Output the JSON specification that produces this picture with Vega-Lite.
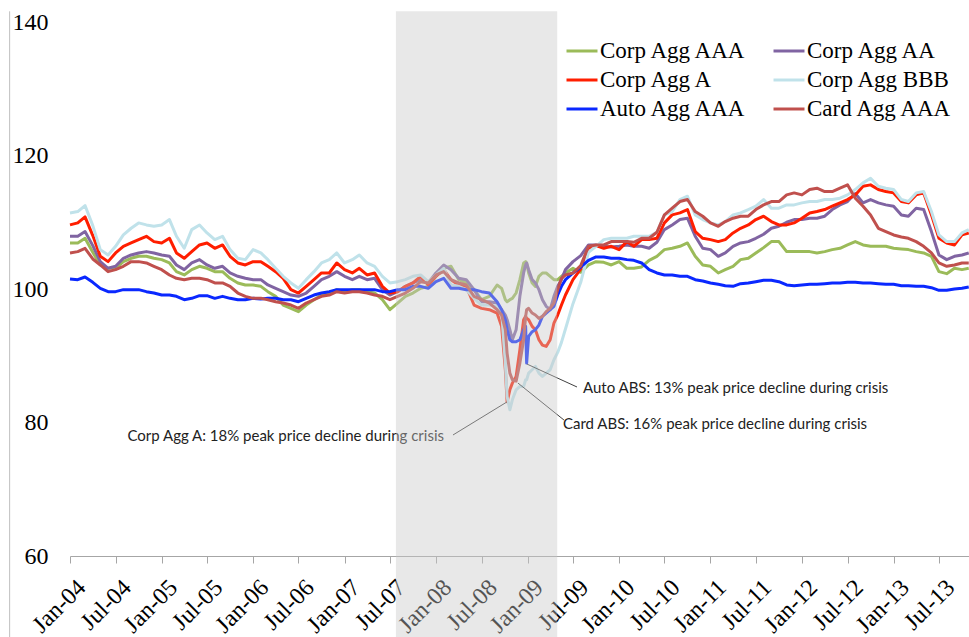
{
"$schema":"https://vega.github.io/schema/vega-lite/v6.json",
"width":899,"height":534,
"autosize":{"type":"none"},
"padding":{"left":70,"top":22,"right":0,"bottom":81},
"background":"white",
"config":{"view":{"stroke":null},"font":"Liberation Serif"},
"datasets":{"series":[
{"s":"AAA","d":"2004-01-01","v":106.9},{"s":"AAA","d":"2004-02-01","v":106.9},{"s":"AAA","d":"2004-03-01","v":107.6},{"s":"AAA","d":"2004-04-01","v":105.5},{"s":"AAA","d":"2004-05-01","v":103.6},{"s":"AAA","d":"2004-06-01","v":103.1},{"s":"AAA","d":"2004-07-01","v":103.1},{"s":"AAA","d":"2004-08-01","v":104.1},{"s":"AAA","d":"2004-09-01","v":104.6},{"s":"AAA","d":"2004-10-01","v":104.9},{"s":"AAA","d":"2004-11-01","v":104.9},{"s":"AAA","d":"2004-12-01","v":104.6},
{"s":"AAA","d":"2005-01-01","v":104.4},{"s":"AAA","d":"2005-02-01","v":103.9},{"s":"AAA","d":"2005-03-01","v":102.6},{"s":"AAA","d":"2005-04-01","v":102.1},{"s":"AAA","d":"2005-05-01","v":102.9},{"s":"AAA","d":"2005-06-01","v":103.4},{"s":"AAA","d":"2005-07-01","v":103.1},{"s":"AAA","d":"2005-08-01","v":102.6},{"s":"AAA","d":"2005-09-01","v":102.6},{"s":"AAA","d":"2005-10-01","v":101.6},{"s":"AAA","d":"2005-11-01","v":100.9},{"s":"AAA","d":"2005-12-01","v":100.6},
{"s":"AAA","d":"2006-01-01","v":100.6},{"s":"AAA","d":"2006-02-01","v":100.4},{"s":"AAA","d":"2006-03-01","v":99.6},{"s":"AAA","d":"2006-04-01","v":98.9},{"s":"AAA","d":"2006-05-01","v":97.6},{"s":"AAA","d":"2006-06-01","v":97.1},{"s":"AAA","d":"2006-07-01","v":96.6},{"s":"AAA","d":"2006-08-01","v":97.6},{"s":"AAA","d":"2006-09-01","v":98.4},{"s":"AAA","d":"2006-10-01","v":99.1},{"s":"AAA","d":"2006-11-01","v":99.4},{"s":"AAA","d":"2006-12-01","v":99.9},
{"s":"AAA","d":"2007-01-01","v":99.6},{"s":"AAA","d":"2007-02-01","v":99.9},{"s":"AAA","d":"2007-03-01","v":99.9},{"s":"AAA","d":"2007-04-01","v":99.6},{"s":"AAA","d":"2007-05-01","v":99.4},{"s":"AAA","d":"2007-06-01","v":98.4},{"s":"AAA","d":"2007-07-01","v":96.9},{"s":"AAA","d":"2007-08-01","v":97.9},{"s":"AAA","d":"2007-09-01","v":98.9},{"s":"AAA","d":"2007-10-01","v":99.4},{"s":"AAA","d":"2007-11-01","v":100.1},{"s":"AAA","d":"2007-12-01","v":100.4},
{"s":"AAA","d":"2008-01-01","v":101.9},{"s":"AAA","d":"2008-02-01","v":103.1},{"s":"AAA","d":"2008-03-01","v":103.4},{"s":"AAA","d":"2008-04-01","v":101.4},{"s":"AAA","d":"2008-05-01","v":100.9},{"s":"AAA","d":"2008-06-01","v":99.9},{"s":"AAA","d":"2008-07-01","v":98.4},{"s":"AAA","d":"2008-08-01","v":98.9},
{"s":"AAA","d":"2008-09-01","v":100.6},{"s":"AAA","d":"2008-09-19","v":100.1},{"s":"AAA","d":"2008-10-04","v":98.4},{"s":"AAA","d":"2008-10-11","v":98.1},{"s":"AAA","d":"2008-10-22","v":98.4},{"s":"AAA","d":"2008-11-01","v":98.6},{"s":"AAA","d":"2008-11-16","v":99.4},{"s":"AAA","d":"2008-12-01","v":101.4},{"s":"AAA","d":"2008-12-16","v":103.9},{"s":"AAA","d":"2008-12-24","v":104.1},{"s":"AAA","d":"2008-12-28","v":103.9},{"s":"AAA","d":"2009-01-05","v":102.4},{"s":"AAA","d":"2009-01-19","v":100.9},{"s":"AAA","d":"2009-02-01","v":100.4},{"s":"AAA","d":"2009-02-15","v":101.9},{"s":"AAA","d":"2009-03-01","v":102.4},{"s":"AAA","d":"2009-03-16","v":102.4},{"s":"AAA","d":"2009-04-01","v":101.9},{"s":"AAA","d":"2009-04-16","v":101.4},{"s":"AAA","d":"2009-05-01","v":101.4},{"s":"AAA","d":"2009-05-16","v":101.9},{"s":"AAA","d":"2009-06-01","v":102.4},{"s":"AAA","d":"2009-07-01","v":103.1},
{"s":"AAA","d":"2009-08-01","v":102.5},{"s":"AAA","d":"2009-09-01","v":103.6},{"s":"AAA","d":"2009-10-01","v":104.1},{"s":"AAA","d":"2009-11-01","v":104.0},{"s":"AAA","d":"2009-12-01","v":103.6},
{"s":"AAA","d":"2010-01-01","v":104.1},{"s":"AAA","d":"2010-02-01","v":103.1},{"s":"AAA","d":"2010-03-01","v":103.1},{"s":"AAA","d":"2010-04-01","v":103.3},{"s":"AAA","d":"2010-05-01","v":104.3},{"s":"AAA","d":"2010-06-01","v":104.9},{"s":"AAA","d":"2010-07-01","v":105.9},{"s":"AAA","d":"2010-08-01","v":106.1},{"s":"AAA","d":"2010-09-01","v":106.4},{"s":"AAA","d":"2010-10-01","v":106.9},{"s":"AAA","d":"2010-11-01","v":104.9},{"s":"AAA","d":"2010-12-01","v":103.6},
{"s":"AAA","d":"2011-01-01","v":103.4},{"s":"AAA","d":"2011-02-01","v":102.4},{"s":"AAA","d":"2011-03-01","v":102.9},{"s":"AAA","d":"2011-04-01","v":103.4},{"s":"AAA","d":"2011-05-01","v":104.4},{"s":"AAA","d":"2011-06-01","v":104.6},{"s":"AAA","d":"2011-07-01","v":105.4},{"s":"AAA","d":"2011-08-01","v":106.2},{"s":"AAA","d":"2011-09-01","v":107.1},{"s":"AAA","d":"2011-10-01","v":107.1},{"s":"AAA","d":"2011-11-01","v":105.6},{"s":"AAA","d":"2011-12-01","v":105.6},
{"s":"AAA","d":"2012-01-01","v":105.6},{"s":"AAA","d":"2012-02-01","v":105.6},{"s":"AAA","d":"2012-03-01","v":105.4},{"s":"AAA","d":"2012-04-01","v":105.6},{"s":"AAA","d":"2012-05-01","v":105.9},{"s":"AAA","d":"2012-06-01","v":106.1},{"s":"AAA","d":"2012-07-01","v":106.6},{"s":"AAA","d":"2012-08-01","v":107.1},{"s":"AAA","d":"2012-09-01","v":106.6},{"s":"AAA","d":"2012-10-01","v":106.4},{"s":"AAA","d":"2012-11-01","v":106.4},{"s":"AAA","d":"2012-12-01","v":106.4},
{"s":"AAA","d":"2013-01-01","v":106.1},{"s":"AAA","d":"2013-02-01","v":106.0},{"s":"AAA","d":"2013-03-01","v":105.9},{"s":"AAA","d":"2013-04-01","v":105.6},{"s":"AAA","d":"2013-05-01","v":105.4},{"s":"AAA","d":"2013-06-01","v":104.9},{"s":"AAA","d":"2013-07-01","v":102.6},{"s":"AAA","d":"2013-08-01","v":102.3},{"s":"AAA","d":"2013-09-01","v":103.1},{"s":"AAA","d":"2013-10-01","v":102.9},{"s":"AAA","d":"2013-10-28","v":103.1},
{"s":"AA","d":"2004-01-01","v":107.9},{"s":"AA","d":"2004-02-01","v":107.9},{"s":"AA","d":"2004-03-01","v":108.6},{"s":"AA","d":"2004-04-01","v":106.5},{"s":"AA","d":"2004-05-01","v":104.1},{"s":"AA","d":"2004-06-01","v":103.1},{"s":"AA","d":"2004-07-01","v":103.4},{"s":"AA","d":"2004-08-01","v":104.6},{"s":"AA","d":"2004-09-01","v":105.1},{"s":"AA","d":"2004-10-01","v":105.4},{"s":"AA","d":"2004-11-01","v":105.6},{"s":"AA","d":"2004-12-01","v":105.4},
{"s":"AA","d":"2005-01-01","v":105.1},{"s":"AA","d":"2005-02-01","v":104.9},{"s":"AA","d":"2005-03-01","v":103.6},{"s":"AA","d":"2005-04-01","v":102.9},{"s":"AA","d":"2005-05-01","v":103.9},{"s":"AA","d":"2005-06-01","v":104.4},{"s":"AA","d":"2005-07-01","v":103.6},{"s":"AA","d":"2005-08-01","v":103.1},{"s":"AA","d":"2005-09-01","v":103.4},{"s":"AA","d":"2005-10-01","v":102.4},{"s":"AA","d":"2005-11-01","v":101.9},{"s":"AA","d":"2005-12-01","v":101.6},
{"s":"AA","d":"2006-01-01","v":101.4},{"s":"AA","d":"2006-02-01","v":101.4},{"s":"AA","d":"2006-03-01","v":100.6},{"s":"AA","d":"2006-04-01","v":100.1},{"s":"AA","d":"2006-05-01","v":99.6},{"s":"AA","d":"2006-06-01","v":99.1},{"s":"AA","d":"2006-07-01","v":98.9},{"s":"AA","d":"2006-08-01","v":99.4},{"s":"AA","d":"2006-09-01","v":100.4},{"s":"AA","d":"2006-10-01","v":101.4},{"s":"AA","d":"2006-11-01","v":101.9},{"s":"AA","d":"2006-12-01","v":102.6},
{"s":"AA","d":"2007-01-01","v":101.9},{"s":"AA","d":"2007-02-01","v":101.4},{"s":"AA","d":"2007-03-01","v":101.9},{"s":"AA","d":"2007-04-01","v":101.4},{"s":"AA","d":"2007-05-01","v":101.6},{"s":"AA","d":"2007-06-01","v":99.9},{"s":"AA","d":"2007-07-01","v":99.1},{"s":"AA","d":"2007-08-01","v":99.6},{"s":"AA","d":"2007-09-01","v":100.4},{"s":"AA","d":"2007-10-01","v":100.9},{"s":"AA","d":"2007-11-01","v":101.4},{"s":"AA","d":"2007-12-01","v":100.9},
{"s":"AA","d":"2008-01-01","v":102.4},{"s":"AA","d":"2008-02-01","v":103.6},{"s":"AA","d":"2008-03-01","v":102.9},{"s":"AA","d":"2008-04-01","v":101.6},{"s":"AA","d":"2008-05-01","v":101.4},{"s":"AA","d":"2008-06-01","v":99.9},{"s":"AA","d":"2008-07-01","v":98.1},{"s":"AA","d":"2008-08-01","v":98.1},
{"s":"AA","d":"2008-09-01","v":97.9},{"s":"AA","d":"2008-09-19","v":96.9},{"s":"AA","d":"2008-10-04","v":96.1},{"s":"AA","d":"2008-10-11","v":95.4},{"s":"AA","d":"2008-10-22","v":93.9},{"s":"AA","d":"2008-11-01","v":92.4},{"s":"AA","d":"2008-11-16","v":93.9},{"s":"AA","d":"2008-12-01","v":98.9},{"s":"AA","d":"2008-12-16","v":102.4},{"s":"AA","d":"2008-12-24","v":103.6},{"s":"AA","d":"2008-12-28","v":103.9},{"s":"AA","d":"2009-01-05","v":102.9},{"s":"AA","d":"2009-01-19","v":101.4},{"s":"AA","d":"2009-02-01","v":100.9},{"s":"AA","d":"2009-02-15","v":99.9},{"s":"AA","d":"2009-03-01","v":98.4},{"s":"AA","d":"2009-03-16","v":97.4},{"s":"AA","d":"2009-04-01","v":96.9},{"s":"AA","d":"2009-04-16","v":98.9},{"s":"AA","d":"2009-05-01","v":100.4},{"s":"AA","d":"2009-05-16","v":101.4},{"s":"AA","d":"2009-06-01","v":102.9},{"s":"AA","d":"2009-07-01","v":104.1},
{"s":"AA","d":"2009-08-01","v":105.0},{"s":"AA","d":"2009-09-01","v":106.6},{"s":"AA","d":"2009-10-01","v":106.6},{"s":"AA","d":"2009-11-01","v":106.4},{"s":"AA","d":"2009-12-01","v":106.3},
{"s":"AA","d":"2010-01-01","v":106.4},{"s":"AA","d":"2010-02-01","v":106.6},{"s":"AA","d":"2010-03-01","v":106.4},{"s":"AA","d":"2010-04-01","v":106.4},{"s":"AA","d":"2010-05-01","v":106.1},{"s":"AA","d":"2010-06-01","v":107.0},{"s":"AA","d":"2010-07-01","v":108.9},{"s":"AA","d":"2010-08-01","v":109.6},{"s":"AA","d":"2010-09-01","v":110.4},{"s":"AA","d":"2010-10-01","v":110.6},{"s":"AA","d":"2010-11-01","v":107.9},{"s":"AA","d":"2010-12-01","v":106.1},
{"s":"AA","d":"2011-01-01","v":105.9},{"s":"AA","d":"2011-02-01","v":104.9},{"s":"AA","d":"2011-03-01","v":105.4},{"s":"AA","d":"2011-04-01","v":106.4},{"s":"AA","d":"2011-05-01","v":106.9},{"s":"AA","d":"2011-06-01","v":107.1},{"s":"AA","d":"2011-07-01","v":107.6},{"s":"AA","d":"2011-08-01","v":108.2},{"s":"AA","d":"2011-09-01","v":109.1},{"s":"AA","d":"2011-10-01","v":109.4},{"s":"AA","d":"2011-11-01","v":110.0},{"s":"AA","d":"2011-12-01","v":110.4},
{"s":"AA","d":"2012-01-01","v":110.4},{"s":"AA","d":"2012-02-01","v":110.6},{"s":"AA","d":"2012-03-01","v":110.6},{"s":"AA","d":"2012-04-01","v":110.9},{"s":"AA","d":"2012-05-01","v":111.9},{"s":"AA","d":"2012-06-01","v":112.6},{"s":"AA","d":"2012-07-01","v":113.1},{"s":"AA","d":"2012-08-01","v":114.3},{"s":"AA","d":"2012-09-01","v":112.9},{"s":"AA","d":"2012-10-01","v":113.4},{"s":"AA","d":"2012-11-01","v":112.9},{"s":"AA","d":"2012-12-01","v":112.6},
{"s":"AA","d":"2013-01-01","v":112.4},{"s":"AA","d":"2013-02-01","v":111.1},{"s":"AA","d":"2013-03-01","v":110.9},{"s":"AA","d":"2013-04-01","v":112.1},{"s":"AA","d":"2013-05-01","v":111.9},{"s":"AA","d":"2013-06-01","v":108.6},{"s":"AA","d":"2013-07-01","v":105.1},{"s":"AA","d":"2013-08-01","v":104.4},{"s":"AA","d":"2013-09-01","v":104.9},{"s":"AA","d":"2013-10-01","v":105.1},{"s":"AA","d":"2013-10-28","v":105.4},
{"s":"A","d":"2004-01-01","v":109.6},{"s":"A","d":"2004-02-01","v":109.9},{"s":"A","d":"2004-03-01","v":110.8},{"s":"A","d":"2004-04-01","v":108.0},{"s":"A","d":"2004-05-01","v":104.9},{"s":"A","d":"2004-06-01","v":104.1},{"s":"A","d":"2004-07-01","v":105.4},{"s":"A","d":"2004-08-01","v":106.4},{"s":"A","d":"2004-09-01","v":106.9},{"s":"A","d":"2004-10-01","v":107.4},{"s":"A","d":"2004-11-01","v":107.9},{"s":"A","d":"2004-12-01","v":107.1},
{"s":"A","d":"2005-01-01","v":106.9},{"s":"A","d":"2005-02-01","v":107.6},{"s":"A","d":"2005-03-01","v":105.4},{"s":"A","d":"2005-04-01","v":104.6},{"s":"A","d":"2005-05-01","v":105.6},{"s":"A","d":"2005-06-01","v":106.6},{"s":"A","d":"2005-07-01","v":106.9},{"s":"A","d":"2005-08-01","v":106.1},{"s":"A","d":"2005-09-01","v":106.6},{"s":"A","d":"2005-10-01","v":104.9},{"s":"A","d":"2005-11-01","v":103.9},{"s":"A","d":"2005-12-01","v":103.6},
{"s":"A","d":"2006-01-01","v":104.1},{"s":"A","d":"2006-02-01","v":104.1},{"s":"A","d":"2006-03-01","v":103.4},{"s":"A","d":"2006-04-01","v":102.6},{"s":"A","d":"2006-05-01","v":101.6},{"s":"A","d":"2006-06-01","v":99.9},{"s":"A","d":"2006-07-01","v":99.4},{"s":"A","d":"2006-08-01","v":100.4},{"s":"A","d":"2006-09-01","v":101.4},{"s":"A","d":"2006-10-01","v":102.4},{"s":"A","d":"2006-11-01","v":102.4},{"s":"A","d":"2006-12-01","v":103.9},
{"s":"A","d":"2007-01-01","v":102.9},{"s":"A","d":"2007-02-01","v":102.4},{"s":"A","d":"2007-03-01","v":103.1},{"s":"A","d":"2007-04-01","v":102.1},{"s":"A","d":"2007-05-01","v":102.4},{"s":"A","d":"2007-06-01","v":100.4},{"s":"A","d":"2007-07-01","v":99.4},{"s":"A","d":"2007-08-01","v":99.6},{"s":"A","d":"2007-09-01","v":100.4},{"s":"A","d":"2007-10-01","v":100.9},{"s":"A","d":"2007-11-01","v":101.9},{"s":"A","d":"2007-12-01","v":100.6},
{"s":"A","d":"2008-01-01","v":101.9},{"s":"A","d":"2008-02-01","v":102.9},{"s":"A","d":"2008-03-01","v":101.4},{"s":"A","d":"2008-04-01","v":100.6},{"s":"A","d":"2008-05-01","v":100.4},{"s":"A","d":"2008-06-01","v":97.6},{"s":"A","d":"2008-07-01","v":97.1},{"s":"A","d":"2008-08-01","v":96.9},
{"s":"A","d":"2008-09-01","v":96.4},{"s":"A","d":"2008-09-19","v":94.4},{"s":"A","d":"2008-10-04","v":87.9},{"s":"A","d":"2008-10-11","v":83.1},{"s":"A","d":"2008-10-22","v":84.9},{"s":"A","d":"2008-11-01","v":85.9},{"s":"A","d":"2008-11-16","v":86.9},{"s":"A","d":"2008-12-01","v":90.9},{"s":"A","d":"2008-12-16","v":95.4},{"s":"A","d":"2008-12-24","v":95.9},{"s":"A","d":"2008-12-28","v":95.6},{"s":"A","d":"2009-01-05","v":95.4},{"s":"A","d":"2009-01-19","v":94.4},{"s":"A","d":"2009-02-01","v":93.9},{"s":"A","d":"2009-02-15","v":92.4},{"s":"A","d":"2009-03-01","v":91.6},{"s":"A","d":"2009-03-16","v":91.4},{"s":"A","d":"2009-04-01","v":92.4},{"s":"A","d":"2009-04-16","v":94.9},{"s":"A","d":"2009-05-01","v":96.1},{"s":"A","d":"2009-05-16","v":97.6},{"s":"A","d":"2009-06-01","v":99.1},{"s":"A","d":"2009-07-01","v":101.4},
{"s":"A","d":"2009-08-01","v":103.0},{"s":"A","d":"2009-09-01","v":106.1},{"s":"A","d":"2009-10-01","v":106.5},{"s":"A","d":"2009-11-01","v":106.1},{"s":"A","d":"2009-12-01","v":106.4},
{"s":"A","d":"2010-01-01","v":105.9},{"s":"A","d":"2010-02-01","v":107.1},{"s":"A","d":"2010-03-01","v":106.4},{"s":"A","d":"2010-04-01","v":107.4},{"s":"A","d":"2010-05-01","v":107.4},{"s":"A","d":"2010-06-01","v":107.6},{"s":"A","d":"2010-07-01","v":109.9},{"s":"A","d":"2010-08-01","v":111.1},{"s":"A","d":"2010-09-01","v":111.4},{"s":"A","d":"2010-10-01","v":111.9},{"s":"A","d":"2010-11-01","v":108.6},{"s":"A","d":"2010-12-01","v":107.6},
{"s":"A","d":"2011-01-01","v":107.4},{"s":"A","d":"2011-02-01","v":107.1},{"s":"A","d":"2011-03-01","v":107.4},{"s":"A","d":"2011-04-01","v":108.4},{"s":"A","d":"2011-05-01","v":109.1},{"s":"A","d":"2011-06-01","v":109.6},{"s":"A","d":"2011-07-01","v":110.4},{"s":"A","d":"2011-08-01","v":110.9},{"s":"A","d":"2011-09-01","v":110.1},{"s":"A","d":"2011-10-01","v":109.6},{"s":"A","d":"2011-11-01","v":109.6},{"s":"A","d":"2011-12-01","v":109.9},
{"s":"A","d":"2012-01-01","v":110.6},{"s":"A","d":"2012-02-01","v":111.4},{"s":"A","d":"2012-03-01","v":111.6},{"s":"A","d":"2012-04-01","v":111.9},{"s":"A","d":"2012-05-01","v":112.4},{"s":"A","d":"2012-06-01","v":112.9},{"s":"A","d":"2012-07-01","v":113.4},{"s":"A","d":"2012-08-01","v":114.1},{"s":"A","d":"2012-09-01","v":115.4},{"s":"A","d":"2012-10-01","v":115.6},{"s":"A","d":"2012-11-01","v":114.9},{"s":"A","d":"2012-12-01","v":114.6},
{"s":"A","d":"2013-01-01","v":114.4},{"s":"A","d":"2013-02-01","v":113.1},{"s":"A","d":"2013-03-01","v":112.9},{"s":"A","d":"2013-04-01","v":114.1},{"s":"A","d":"2013-05-01","v":114.4},{"s":"A","d":"2013-06-01","v":111.1},{"s":"A","d":"2013-07-01","v":107.6},{"s":"A","d":"2013-08-01","v":106.9},{"s":"A","d":"2013-09-01","v":106.6},{"s":"A","d":"2013-10-01","v":108.1},{"s":"A","d":"2013-10-28","v":108.4},
{"s":"BBB","d":"2004-01-01","v":111.4},{"s":"BBB","d":"2004-02-01","v":111.6},{"s":"BBB","d":"2004-03-01","v":112.5},{"s":"BBB","d":"2004-04-01","v":109.5},{"s":"BBB","d":"2004-05-01","v":105.9},{"s":"BBB","d":"2004-06-01","v":105.1},{"s":"BBB","d":"2004-07-01","v":106.4},{"s":"BBB","d":"2004-08-01","v":108.1},{"s":"BBB","d":"2004-09-01","v":109.1},{"s":"BBB","d":"2004-10-01","v":109.9},{"s":"BBB","d":"2004-11-01","v":109.6},{"s":"BBB","d":"2004-12-01","v":109.4},
{"s":"BBB","d":"2005-01-01","v":109.6},{"s":"BBB","d":"2005-02-01","v":110.4},{"s":"BBB","d":"2005-03-01","v":107.9},{"s":"BBB","d":"2005-04-01","v":106.1},{"s":"BBB","d":"2005-05-01","v":108.9},{"s":"BBB","d":"2005-06-01","v":109.6},{"s":"BBB","d":"2005-07-01","v":108.4},{"s":"BBB","d":"2005-08-01","v":107.4},{"s":"BBB","d":"2005-09-01","v":107.9},{"s":"BBB","d":"2005-10-01","v":105.9},{"s":"BBB","d":"2005-11-01","v":104.6},{"s":"BBB","d":"2005-12-01","v":104.4},
{"s":"BBB","d":"2006-01-01","v":105.9},{"s":"BBB","d":"2006-02-01","v":105.4},{"s":"BBB","d":"2006-03-01","v":104.4},{"s":"BBB","d":"2006-04-01","v":103.1},{"s":"BBB","d":"2006-05-01","v":101.9},{"s":"BBB","d":"2006-06-01","v":100.9},{"s":"BBB","d":"2006-07-01","v":100.1},{"s":"BBB","d":"2006-08-01","v":101.4},{"s":"BBB","d":"2006-09-01","v":102.6},{"s":"BBB","d":"2006-10-01","v":103.9},{"s":"BBB","d":"2006-11-01","v":104.4},{"s":"BBB","d":"2006-12-01","v":105.4},
{"s":"BBB","d":"2007-01-01","v":103.9},{"s":"BBB","d":"2007-02-01","v":104.4},{"s":"BBB","d":"2007-03-01","v":105.1},{"s":"BBB","d":"2007-04-01","v":103.9},{"s":"BBB","d":"2007-05-01","v":103.4},{"s":"BBB","d":"2007-06-01","v":101.9},{"s":"BBB","d":"2007-07-01","v":100.9},{"s":"BBB","d":"2007-08-01","v":101.1},{"s":"BBB","d":"2007-09-01","v":101.4},{"s":"BBB","d":"2007-10-01","v":101.9},{"s":"BBB","d":"2007-11-01","v":102.1},{"s":"BBB","d":"2007-12-01","v":101.1},
{"s":"BBB","d":"2008-01-01","v":102.1},{"s":"BBB","d":"2008-02-01","v":103.1},{"s":"BBB","d":"2008-03-01","v":100.6},{"s":"BBB","d":"2008-04-01","v":100.4},{"s":"BBB","d":"2008-05-01","v":99.9},{"s":"BBB","d":"2008-06-01","v":98.6},{"s":"BBB","d":"2008-07-01","v":97.6},{"s":"BBB","d":"2008-08-01","v":97.6},
{"s":"BBB","d":"2008-09-01","v":97.4},{"s":"BBB","d":"2008-09-19","v":96.6},{"s":"BBB","d":"2008-10-04","v":88.9},{"s":"BBB","d":"2008-10-11","v":83.9},{"s":"BBB","d":"2008-10-22","v":81.9},{"s":"BBB","d":"2008-11-01","v":83.4},{"s":"BBB","d":"2008-11-16","v":84.9},{"s":"BBB","d":"2008-12-01","v":85.4},{"s":"BBB","d":"2008-12-16","v":85.4},{"s":"BBB","d":"2008-12-24","v":86.4},{"s":"BBB","d":"2008-12-28","v":86.4},{"s":"BBB","d":"2009-01-05","v":87.4},{"s":"BBB","d":"2009-01-19","v":87.9},{"s":"BBB","d":"2009-02-01","v":88.4},{"s":"BBB","d":"2009-02-15","v":87.4},{"s":"BBB","d":"2009-03-01","v":86.9},{"s":"BBB","d":"2009-03-16","v":87.4},{"s":"BBB","d":"2009-04-01","v":87.9},{"s":"BBB","d":"2009-04-16","v":89.4},{"s":"BBB","d":"2009-05-01","v":90.5},{"s":"BBB","d":"2009-05-16","v":92.0},{"s":"BBB","d":"2009-06-01","v":94.0},{"s":"BBB","d":"2009-07-01","v":97.8},
{"s":"BBB","d":"2009-08-01","v":101.0},{"s":"BBB","d":"2009-09-01","v":105.5},{"s":"BBB","d":"2009-10-01","v":106.4},{"s":"BBB","d":"2009-11-01","v":107.4},{"s":"BBB","d":"2009-12-01","v":107.6},
{"s":"BBB","d":"2010-01-01","v":107.6},{"s":"BBB","d":"2010-02-01","v":107.6},{"s":"BBB","d":"2010-03-01","v":107.9},{"s":"BBB","d":"2010-04-01","v":107.9},{"s":"BBB","d":"2010-05-01","v":107.9},{"s":"BBB","d":"2010-06-01","v":108.5},{"s":"BBB","d":"2010-07-01","v":111.1},{"s":"BBB","d":"2010-08-01","v":111.6},{"s":"BBB","d":"2010-09-01","v":113.4},{"s":"BBB","d":"2010-10-01","v":113.9},{"s":"BBB","d":"2010-11-01","v":111.1},{"s":"BBB","d":"2010-12-01","v":110.4},
{"s":"BBB","d":"2011-01-01","v":109.9},{"s":"BBB","d":"2011-02-01","v":109.6},{"s":"BBB","d":"2011-03-01","v":110.1},{"s":"BBB","d":"2011-04-01","v":111.1},{"s":"BBB","d":"2011-05-01","v":111.4},{"s":"BBB","d":"2011-06-01","v":111.9},{"s":"BBB","d":"2011-07-01","v":112.4},{"s":"BBB","d":"2011-08-01","v":113.4},{"s":"BBB","d":"2011-09-01","v":112.1},{"s":"BBB","d":"2011-10-01","v":112.1},{"s":"BBB","d":"2011-11-01","v":112.6},{"s":"BBB","d":"2011-12-01","v":112.6},
{"s":"BBB","d":"2012-01-01","v":112.9},{"s":"BBB","d":"2012-02-01","v":113.1},{"s":"BBB","d":"2012-03-01","v":113.1},{"s":"BBB","d":"2012-04-01","v":113.4},{"s":"BBB","d":"2012-05-01","v":113.4},{"s":"BBB","d":"2012-06-01","v":113.6},{"s":"BBB","d":"2012-07-01","v":114.1},{"s":"BBB","d":"2012-08-01","v":114.9},{"s":"BBB","d":"2012-09-01","v":115.9},{"s":"BBB","d":"2012-10-01","v":116.6},{"s":"BBB","d":"2012-11-01","v":115.4},{"s":"BBB","d":"2012-12-01","v":115.1},
{"s":"BBB","d":"2013-01-01","v":114.9},{"s":"BBB","d":"2013-02-01","v":113.4},{"s":"BBB","d":"2013-03-01","v":113.1},{"s":"BBB","d":"2013-04-01","v":114.4},{"s":"BBB","d":"2013-05-01","v":114.6},{"s":"BBB","d":"2013-06-01","v":111.6},{"s":"BBB","d":"2013-07-01","v":108.1},{"s":"BBB","d":"2013-08-01","v":107.1},{"s":"BBB","d":"2013-09-01","v":107.1},{"s":"BBB","d":"2013-10-01","v":108.4},{"s":"BBB","d":"2013-10-28","v":108.9},
{"s":"Auto","d":"2004-01-01","v":101.5},{"s":"Auto","d":"2004-02-01","v":101.4},{"s":"Auto","d":"2004-03-01","v":101.8},{"s":"Auto","d":"2004-04-01","v":101.0},{"s":"Auto","d":"2004-05-01","v":100.1},{"s":"Auto","d":"2004-06-01","v":99.6},{"s":"Auto","d":"2004-07-01","v":99.6},{"s":"Auto","d":"2004-08-01","v":99.9},{"s":"Auto","d":"2004-09-01","v":99.9},{"s":"Auto","d":"2004-10-01","v":99.9},{"s":"Auto","d":"2004-11-01","v":99.6},{"s":"Auto","d":"2004-12-01","v":99.4},
{"s":"Auto","d":"2005-01-01","v":99.1},{"s":"Auto","d":"2005-02-01","v":99.1},{"s":"Auto","d":"2005-03-01","v":98.9},{"s":"Auto","d":"2005-04-01","v":98.4},{"s":"Auto","d":"2005-05-01","v":98.6},{"s":"Auto","d":"2005-06-01","v":99.0},{"s":"Auto","d":"2005-07-01","v":99.0},{"s":"Auto","d":"2005-08-01","v":98.6},{"s":"Auto","d":"2005-09-01","v":98.9},{"s":"Auto","d":"2005-10-01","v":98.6},{"s":"Auto","d":"2005-11-01","v":98.4},{"s":"Auto","d":"2005-12-01","v":98.4},
{"s":"Auto","d":"2006-01-01","v":98.6},{"s":"Auto","d":"2006-02-01","v":98.5},{"s":"Auto","d":"2006-03-01","v":98.6},{"s":"Auto","d":"2006-04-01","v":98.6},{"s":"Auto","d":"2006-05-01","v":98.4},{"s":"Auto","d":"2006-06-01","v":98.4},{"s":"Auto","d":"2006-07-01","v":98.1},{"s":"Auto","d":"2006-08-01","v":98.6},{"s":"Auto","d":"2006-09-01","v":99.1},{"s":"Auto","d":"2006-10-01","v":99.4},{"s":"Auto","d":"2006-11-01","v":99.6},{"s":"Auto","d":"2006-12-01","v":99.9},
{"s":"Auto","d":"2007-01-01","v":99.9},{"s":"Auto","d":"2007-02-01","v":99.9},{"s":"Auto","d":"2007-03-01","v":99.9},{"s":"Auto","d":"2007-04-01","v":99.9},{"s":"Auto","d":"2007-05-01","v":99.9},{"s":"Auto","d":"2007-06-01","v":99.6},{"s":"Auto","d":"2007-07-01","v":99.6},{"s":"Auto","d":"2007-08-01","v":99.9},{"s":"Auto","d":"2007-09-01","v":99.9},{"s":"Auto","d":"2007-10-01","v":100.4},{"s":"Auto","d":"2007-11-01","v":100.4},{"s":"Auto","d":"2007-12-01","v":100.1},
{"s":"Auto","d":"2008-01-01","v":101.1},{"s":"Auto","d":"2008-02-01","v":101.6},{"s":"Auto","d":"2008-03-01","v":100.1},{"s":"Auto","d":"2008-04-01","v":100.1},{"s":"Auto","d":"2008-05-01","v":99.9},{"s":"Auto","d":"2008-06-01","v":99.9},{"s":"Auto","d":"2008-07-01","v":99.6},{"s":"Auto","d":"2008-08-01","v":99.4},
{"s":"Auto","d":"2008-09-01","v":98.1},{"s":"Auto","d":"2008-09-19","v":96.9},{"s":"Auto","d":"2008-10-04","v":95.4},{"s":"Auto","d":"2008-10-11","v":93.9},{"s":"Auto","d":"2008-10-22","v":92.4},{"s":"Auto","d":"2008-11-01","v":92.1},{"s":"Auto","d":"2008-11-16","v":92.1},{"s":"Auto","d":"2008-12-01","v":92.4},{"s":"Auto","d":"2008-12-16","v":93.9},{"s":"Auto","d":"2008-12-24","v":94.4},{"s":"Auto","d":"2008-12-28","v":88.9},{"s":"Auto","d":"2009-01-05","v":92.9},{"s":"Auto","d":"2009-01-19","v":93.6},{"s":"Auto","d":"2009-02-01","v":93.9},{"s":"Auto","d":"2009-02-15","v":94.6},{"s":"Auto","d":"2009-03-01","v":95.9},{"s":"Auto","d":"2009-03-16","v":96.4},{"s":"Auto","d":"2009-04-01","v":96.9},{"s":"Auto","d":"2009-04-16","v":97.4},{"s":"Auto","d":"2009-05-01","v":99.1},{"s":"Auto","d":"2009-05-16","v":100.4},{"s":"Auto","d":"2009-06-01","v":101.4},{"s":"Auto","d":"2009-07-01","v":102.4},
{"s":"Auto","d":"2009-08-01","v":103.3},{"s":"Auto","d":"2009-09-01","v":104.3},{"s":"Auto","d":"2009-10-01","v":104.8},{"s":"Auto","d":"2009-11-01","v":104.8},{"s":"Auto","d":"2009-12-01","v":104.6},
{"s":"Auto","d":"2010-01-01","v":104.6},{"s":"Auto","d":"2010-02-01","v":104.4},{"s":"Auto","d":"2010-03-01","v":104.3},{"s":"Auto","d":"2010-04-01","v":103.9},{"s":"Auto","d":"2010-05-01","v":102.9},{"s":"Auto","d":"2010-06-01","v":102.4},{"s":"Auto","d":"2010-07-01","v":102.1},{"s":"Auto","d":"2010-08-01","v":102.1},{"s":"Auto","d":"2010-09-01","v":101.9},{"s":"Auto","d":"2010-10-01","v":101.9},{"s":"Auto","d":"2010-11-01","v":101.4},{"s":"Auto","d":"2010-12-01","v":101.2},
{"s":"Auto","d":"2011-01-01","v":100.9},{"s":"Auto","d":"2011-02-01","v":100.7},{"s":"Auto","d":"2011-03-01","v":100.5},{"s":"Auto","d":"2011-04-01","v":100.4},{"s":"Auto","d":"2011-05-01","v":100.8},{"s":"Auto","d":"2011-06-01","v":100.9},{"s":"Auto","d":"2011-07-01","v":101.1},{"s":"Auto","d":"2011-08-01","v":101.3},{"s":"Auto","d":"2011-09-01","v":101.3},{"s":"Auto","d":"2011-10-01","v":101.1},{"s":"Auto","d":"2011-11-01","v":100.6},{"s":"Auto","d":"2011-12-01","v":100.5},
{"s":"Auto","d":"2012-01-01","v":100.6},{"s":"Auto","d":"2012-02-01","v":100.7},{"s":"Auto","d":"2012-03-01","v":100.7},{"s":"Auto","d":"2012-04-01","v":100.8},{"s":"Auto","d":"2012-05-01","v":100.9},{"s":"Auto","d":"2012-06-01","v":100.9},{"s":"Auto","d":"2012-07-01","v":101.0},{"s":"Auto","d":"2012-08-01","v":101.0},{"s":"Auto","d":"2012-09-01","v":100.9},{"s":"Auto","d":"2012-10-01","v":100.9},{"s":"Auto","d":"2012-11-01","v":100.8},{"s":"Auto","d":"2012-12-01","v":100.7},
{"s":"Auto","d":"2013-01-01","v":100.7},{"s":"Auto","d":"2013-02-01","v":100.5},{"s":"Auto","d":"2013-03-01","v":100.5},{"s":"Auto","d":"2013-04-01","v":100.4},{"s":"Auto","d":"2013-05-01","v":100.4},{"s":"Auto","d":"2013-06-01","v":100.2},{"s":"Auto","d":"2013-07-01","v":99.8},{"s":"Auto","d":"2013-08-01","v":99.8},{"s":"Auto","d":"2013-09-01","v":100.0},{"s":"Auto","d":"2013-10-01","v":100.1},{"s":"Auto","d":"2013-10-28","v":100.3},
{"s":"Card","d":"2004-01-01","v":105.4},{"s":"Card","d":"2004-02-01","v":105.6},{"s":"Card","d":"2004-03-01","v":106.1},{"s":"Card","d":"2004-04-01","v":104.5},{"s":"Card","d":"2004-05-01","v":103.6},{"s":"Card","d":"2004-06-01","v":102.6},{"s":"Card","d":"2004-07-01","v":102.9},{"s":"Card","d":"2004-08-01","v":103.4},{"s":"Card","d":"2004-09-01","v":104.1},{"s":"Card","d":"2004-10-01","v":104.1},{"s":"Card","d":"2004-11-01","v":103.9},{"s":"Card","d":"2004-12-01","v":103.4},
{"s":"Card","d":"2005-01-01","v":102.9},{"s":"Card","d":"2005-02-01","v":102.1},{"s":"Card","d":"2005-03-01","v":101.6},{"s":"Card","d":"2005-04-01","v":101.4},{"s":"Card","d":"2005-05-01","v":101.6},{"s":"Card","d":"2005-06-01","v":101.6},{"s":"Card","d":"2005-07-01","v":101.4},{"s":"Card","d":"2005-08-01","v":100.9},{"s":"Card","d":"2005-09-01","v":100.9},{"s":"Card","d":"2005-10-01","v":100.4},{"s":"Card","d":"2005-11-01","v":99.4},{"s":"Card","d":"2005-12-01","v":98.9},
{"s":"Card","d":"2006-01-01","v":98.6},{"s":"Card","d":"2006-02-01","v":98.6},{"s":"Card","d":"2006-03-01","v":98.4},{"s":"Card","d":"2006-04-01","v":98.1},{"s":"Card","d":"2006-05-01","v":97.9},{"s":"Card","d":"2006-06-01","v":97.6},{"s":"Card","d":"2006-07-01","v":97.1},{"s":"Card","d":"2006-08-01","v":97.9},{"s":"Card","d":"2006-09-01","v":98.4},{"s":"Card","d":"2006-10-01","v":98.9},{"s":"Card","d":"2006-11-01","v":99.1},{"s":"Card","d":"2006-12-01","v":99.6},
{"s":"Card","d":"2007-01-01","v":99.4},{"s":"Card","d":"2007-02-01","v":99.6},{"s":"Card","d":"2007-03-01","v":99.6},{"s":"Card","d":"2007-04-01","v":99.4},{"s":"Card","d":"2007-05-01","v":99.1},{"s":"Card","d":"2007-06-01","v":98.9},{"s":"Card","d":"2007-07-01","v":98.4},{"s":"Card","d":"2007-08-01","v":98.9},{"s":"Card","d":"2007-09-01","v":99.4},{"s":"Card","d":"2007-10-01","v":100.1},{"s":"Card","d":"2007-11-01","v":101.1},{"s":"Card","d":"2007-12-01","v":100.9},
{"s":"Card","d":"2008-01-01","v":102.1},{"s":"Card","d":"2008-02-01","v":102.6},{"s":"Card","d":"2008-03-01","v":101.4},{"s":"Card","d":"2008-04-01","v":100.9},{"s":"Card","d":"2008-05-01","v":100.6},{"s":"Card","d":"2008-06-01","v":98.9},{"s":"Card","d":"2008-07-01","v":98.4},{"s":"Card","d":"2008-08-01","v":97.9},
{"s":"Card","d":"2008-09-01","v":96.9},{"s":"Card","d":"2008-09-19","v":96.1},{"s":"Card","d":"2008-10-04","v":93.9},{"s":"Card","d":"2008-10-11","v":90.4},{"s":"Card","d":"2008-10-22","v":87.4},{"s":"Card","d":"2008-11-01","v":86.4},{"s":"Card","d":"2008-11-16","v":86.2},{"s":"Card","d":"2008-12-01","v":88.9},{"s":"Card","d":"2008-12-16","v":92.4},{"s":"Card","d":"2008-12-24","v":95.9},{"s":"Card","d":"2008-12-28","v":96.9},{"s":"Card","d":"2009-01-05","v":97.1},{"s":"Card","d":"2009-01-19","v":96.4},{"s":"Card","d":"2009-02-01","v":96.1},{"s":"Card","d":"2009-02-15","v":95.6},{"s":"Card","d":"2009-03-01","v":95.9},{"s":"Card","d":"2009-03-16","v":96.6},{"s":"Card","d":"2009-04-01","v":97.1},{"s":"Card","d":"2009-04-16","v":97.9},{"s":"Card","d":"2009-05-01","v":99.9},{"s":"Card","d":"2009-05-16","v":101.6},{"s":"Card","d":"2009-06-01","v":102.1},{"s":"Card","d":"2009-07-01","v":102.4},
{"s":"Card","d":"2009-08-01","v":103.5},{"s":"Card","d":"2009-09-01","v":106.4},{"s":"Card","d":"2009-10-01","v":106.6},{"s":"Card","d":"2009-11-01","v":106.6},{"s":"Card","d":"2009-12-01","v":107.1},
{"s":"Card","d":"2010-01-01","v":107.1},{"s":"Card","d":"2010-02-01","v":107.1},{"s":"Card","d":"2010-03-01","v":107.0},{"s":"Card","d":"2010-04-01","v":107.6},{"s":"Card","d":"2010-05-01","v":107.6},{"s":"Card","d":"2010-06-01","v":108.5},{"s":"Card","d":"2010-07-01","v":111.1},{"s":"Card","d":"2010-08-01","v":112.1},{"s":"Card","d":"2010-09-01","v":113.1},{"s":"Card","d":"2010-10-01","v":113.4},{"s":"Card","d":"2010-11-01","v":111.6},{"s":"Card","d":"2010-12-01","v":110.9},
{"s":"Card","d":"2011-01-01","v":109.9},{"s":"Card","d":"2011-02-01","v":109.4},{"s":"Card","d":"2011-03-01","v":110.1},{"s":"Card","d":"2011-04-01","v":110.6},{"s":"Card","d":"2011-05-01","v":110.9},{"s":"Card","d":"2011-06-01","v":110.9},{"s":"Card","d":"2011-07-01","v":111.9},{"s":"Card","d":"2011-08-01","v":112.6},{"s":"Card","d":"2011-09-01","v":113.1},{"s":"Card","d":"2011-10-01","v":113.1},{"s":"Card","d":"2011-11-01","v":114.1},{"s":"Card","d":"2011-12-01","v":114.4},
{"s":"Card","d":"2012-01-01","v":114.1},{"s":"Card","d":"2012-02-01","v":114.9},{"s":"Card","d":"2012-03-01","v":115.1},{"s":"Card","d":"2012-04-01","v":114.6},{"s":"Card","d":"2012-05-01","v":114.6},{"s":"Card","d":"2012-06-01","v":115.1},{"s":"Card","d":"2012-07-01","v":115.6},{"s":"Card","d":"2012-08-01","v":113.6},{"s":"Card","d":"2012-09-01","v":112.4},{"s":"Card","d":"2012-10-01","v":111.1},{"s":"Card","d":"2012-11-01","v":109.1},{"s":"Card","d":"2012-12-01","v":108.6},
{"s":"Card","d":"2013-01-01","v":108.1},{"s":"Card","d":"2013-02-01","v":107.8},{"s":"Card","d":"2013-03-01","v":107.6},{"s":"Card","d":"2013-04-01","v":107.1},{"s":"Card","d":"2013-05-01","v":106.4},{"s":"Card","d":"2013-06-01","v":105.4},{"s":"Card","d":"2013-07-01","v":103.9},{"s":"Card","d":"2013-08-01","v":103.4},{"s":"Card","d":"2013-09-01","v":103.6},{"s":"Card","d":"2013-10-01","v":103.9},{"s":"Card","d":"2013-10-28","v":103.9}
]},
"layer":[
{"data":{"name":"series"},
 "mark":{"type":"line","strokeWidth":3,"strokeJoin":"round"},
 "encoding":{
  "x":{"field":"d","type":"temporal","title":null,
   "scale":{"type":"utc","domain":[{"year":2004,"month":1,"date":1,"utc":true},{"year":2013,"month":10,"date":29,"utc":true}]},
   "axis":{"format":"%b-%y","tickCount":{"interval":"month","step":6},"labelAngle":-45,"labelAlign":"right","labelBaseline":"top","labelPadding":12,"labelOffset":3,"labelFont":"Liberation Serif","labelFontSize":24,"labelColor":"#000000","domainColor":"#a6a6a6","tickColor":"#a6a6a6","tickSize":7,"grid":false,"labelOverlap":false,"labelFlush":false,"labelBound":false}},
  "y":{"field":"v","type":"quantitative","title":null,
   "scale":{"domain":[60,140],"nice":false,"zero":false},
   "axis":{"values":[60,80,100,120,140],"domain":false,"ticks":false,"tickSize":0,"labelPadding":22,"labelFont":"Liberation Serif","labelFontSize":24,"labelColor":"#000000","grid":false}},
  "color":{"field":"s","type":"nominal",
   "scale":{"domain":["AAA","AA","A","BBB","Auto","Card"],"range":["#9bbb59","#8064a2","#ff1e00","#c0e2ea","#0a28ff","#c0504d"]},
   "legend":{"title":null,"orient":"none","legendX":495,"legendY":12,"columns":2,"direction":"horizontal","symbolType":"stroke","symbolSize":961,"symbolStrokeWidth":3,"labelFont":"Liberation Serif","labelFontSize":23,"labelColor":"#000000","labelOffset":1,"columnPadding":20,"rowPadding":0,"padding":0,
    "labelExpr":"datum.label=='AAA'?'Corp Agg AAA':datum.label=='AA'?'Corp Agg AA':datum.label=='A'?'Corp Agg A':datum.label=='BBB'?'Corp Agg BBB':datum.label=='Auto'?'Auto Agg AAA':'Card Agg AAA'"}}
 }},
{"data":{"values":[{"t":"Corp Agg A: 18% peak price decline during crisis","d":"2008-02-02","v":77.98}]},
 "mark":{"type":"text","align":"right","baseline":"middle","font":"Lato","fontSize":15,"color":"#222222"},
 "encoding":{"x":{"field":"d","type":"temporal","title":null},"y":{"field":"v","type":"quantitative","title":null},"text":{"field":"t"}}},
{"data":{"values":[{"t":"Auto ABS: 13% peak price decline during crisis","d":"2009-08-10","v":85.17},{"t":"Card ABS: 16% peak price decline during crisis","d":"2009-05-22","v":79.78}]},
 "mark":{"type":"text","align":"left","baseline":"middle","font":"Lato","fontSize":15,"color":"#222222"},
 "encoding":{"x":{"field":"d","type":"temporal","title":null},"y":{"field":"v","type":"quantitative","title":null},"text":{"field":"t"}}},
{"data":{"values":[{"d":"2008-03-09","v":78.13,"d2":"2008-10-10","v2":83.07},{"d":"2008-11-23","v":85.92,"d2":"2009-05-26","v2":80.37},{"d":"2008-12-29","v":88.76,"d2":"2009-07-17","v2":85.32}]},
 "mark":{"type":"rule","color":"#404040","strokeWidth":1},
 "encoding":{"x":{"field":"d","type":"temporal","title":null},"x2":{"field":"d2"},"y":{"field":"v","type":"quantitative","title":null},"y2":{"field":"v2"}}},
{"data":{"values":[{"d":"2007-07-25","d2":"2009-04-29","v":141.6,"v2":47}]},
 "mark":{"type":"rect","color":"#c8c8c8","opacity":0.42,"clip":false},
 "encoding":{"x":{"field":"d","type":"temporal","title":null},"x2":{"field":"d2"},"y":{"field":"v","type":"quantitative","title":null},"y2":{"field":"v2"}}},
{"data":{"values":[{"d":"2003-05-05","v":141.6,"v2":47}]},
 "mark":{"type":"rule","color":"#bfbfbf","strokeWidth":1,"clip":false},
 "encoding":{"x":{"field":"d","type":"temporal","title":null},"y":{"field":"v","type":"quantitative","title":null},"y2":{"field":"v2"}}}
]
}
